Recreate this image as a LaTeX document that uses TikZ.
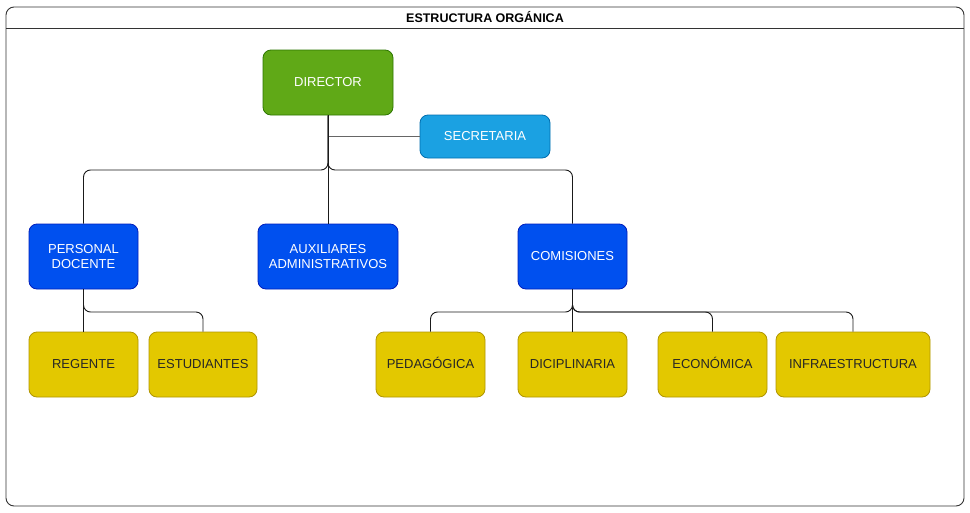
\documentclass[tikz,border=0pt]{standalone}
\usepackage{fontspec}
\setmainfont{Liberation Sans}
\usetikzlibrary{calc}
\definecolor{grnF}{HTML}{60A917}\definecolor{grnD}{HTML}{2D7600}
\definecolor{cyF}{HTML}{1BA1E2}\definecolor{cyD}{HTML}{006EAF}
\definecolor{blF}{HTML}{0050EF}\definecolor{blD}{HTML}{001DBC}
\definecolor{ylF}{HTML}{E3C800}\definecolor{ylD}{HTML}{B09500}
\definecolor{lineC}{HTML}{1A1A1A}
\tikzset{
  box/.style={rounded corners=8pt, line width=0.8pt, align=center, inner sep=0pt, font=\fontsize{13}{15}\selectfont},
  oneline/.style={text height=9.5pt, text depth=2.5pt},
  gbox/.style={box, fill=grnF, draw=grnD, text=white},
  cbox/.style={box, fill=cyF, draw=cyD, text=white},
  bbox/.style={box, fill=blF, draw=blD, text=white},
  ybox/.style={box, oneline, fill=ylF, draw=ylD, text=black!85},
  conn/.style={draw=lineC, line width=0.9pt, rounded corners=7pt},
}
\begin{document}
\begin{tikzpicture}[x=1pt,y=-1pt]
\useasboundingbox (0,0) rectangle (970,512);
\fill[white] (0,0) rectangle (970,512);
% frame
\draw[draw=black!80, line width=0.9pt, rounded corners=8pt] (6,7) rectangle (964,506);
\draw[draw=black!80, line width=0.9pt] (6,28) -- (964,28);
\node[font=\bfseries\fontsize{12.5}{14}\selectfont] (title) at (485,17.5) {ESTRUCTURA ORGÁNICA};
% nodes
\node[gbox, oneline, minimum width=130pt, minimum height=65pt] (dir) at (328,82.5) {DIRECTOR};
\node[cbox, oneline, minimum width=130pt, minimum height=43pt] (sec) at (485,136.5) {SECRETARIA};
\node[bbox, minimum width=109pt, minimum height=65pt] (pd) at (83.5,256.5) {PERSONAL\\DOCENTE};
\node[bbox, minimum width=140pt, minimum height=65pt] (aux) at (328,256.5) {AUXILIARES\\ADMINISTRATIVOS};
\node[bbox, oneline, minimum width=109pt, minimum height=65pt] (com) at (572.5,256.5) {COMISIONES};
\node[ybox, minimum width=109pt, minimum height=65pt] (reg) at (83.5,364.5) {REGENTE};
\node[ybox, minimum width=108pt, minimum height=65pt] (est) at (203,364.5) {ESTUDIANTES};
\node[ybox, minimum width=109pt, minimum height=65pt] (ped) at (430.5,364.5) {PEDAGÓGICA};
\node[ybox, minimum width=109pt, minimum height=65pt] (dic) at (572.5,364.5) {DICIPLINARIA};
\node[ybox, minimum width=109pt, minimum height=65pt] (eco) at (712.5,364.5) {ECONÓMICA};
\node[ybox, minimum width=154pt, minimum height=65pt] (inf) at (853,364.5) {INFRAESTRUCTURA};
% levels
\coordinate (l1) at (0,170);
\coordinate (l2) at (0,312);
% connectors
\draw[draw=black!60, line width=0.9pt] (dir.south) |- (sec.west);
\draw[conn] (dir.south) -- (dir.south |- l1) -| (pd.north);
\draw[conn] (dir.south) -- (aux.north);
\draw[conn] (dir.south) -- (dir.south |- l1) -| (com.north);
\draw[conn] (pd.south) -- (reg.north);
\draw[conn] (pd.south) -- (pd.south |- l2) -| (est.north);
\draw[conn] (com.south) -- (com.south |- l2) -| (ped.north);
\draw[conn] (com.south) -- (dic.north);
\draw[conn] (com.south) -- (com.south |- l2) -| (eco.north);
\draw[conn] (com.south) -- (com.south |- l2) -| (inf.north);
\end{tikzpicture}
\end{document}
